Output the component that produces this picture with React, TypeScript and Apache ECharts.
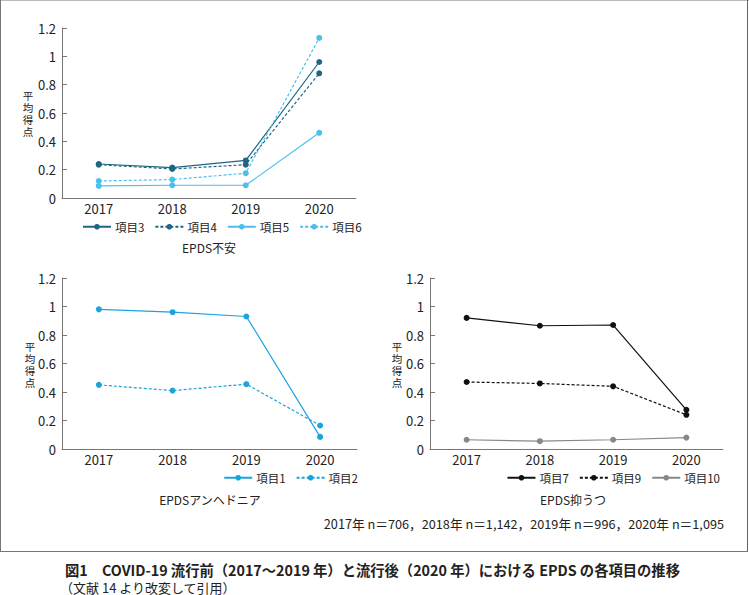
import React, { useEffect, useRef } from "react";
import * as echarts from "echarts";

const years = ["2017", "2018", "2019", "2020"];
const yTicks = [0, 0.2, 0.4, 0.6, 0.8, 1, 1.2];

const item3 = [0.24, 0.215, 0.265, 0.96];
const item4 = [0.235, 0.205, 0.235, 0.88];
const item5 = [0.085, 0.09, 0.09, 0.46];
const item6 = [0.12, 0.13, 0.175, 1.13];

const item1 = [0.98, 0.96, 0.93, 0.085];
const item2 = [0.45, 0.41, 0.455, 0.165];

const item7 = [0.92, 0.865, 0.87, 0.275];
const item9 = [0.47, 0.46, 0.44, 0.24];
const item10 = [0.065, 0.055, 0.065, 0.08];

const panelTitles = ["EPDS不安", "EPDSアンヘドニア", "EPDS抑うつ"];
const yName = "平均得点";
const note = "2017年 n＝706，2018年 n＝1,142，2019年 n＝996，2020年 n＝1,095";
const caption1 = "図1　COVID-19 流行前（2017〜2019 年）と流行後（2020 年）における EPDS の各項目の推移";
const caption2 = "（文献 14 より改変して引用）";

const FONT = "'Noto Sans CJK JP', 'Noto Sans', sans-serif";
const TEXT = "#222";
const AXIS = "#777";

const DARK = "#1e6683";
const LIGHT = "#4dbfec";
const MID = "#1aa3dc";
const BLACK = "#111";
const GRAY = "#888";

export default function App() {
  const ref = useRef<HTMLDivElement>(null);
  useEffect(() => {
    document.body.style.margin = "0";
    if (!ref.current) return;
    const chart = echarts.init(ref.current, null, { renderer: "svg" });

    const grids = [
      { left: 62, top: 28, width: 294, height: 170 },
      { left: 62, top: 278, width: 295, height: 171 },
      { left: 430, top: 278, width: 293, height: 171 },
    ];

    const xAxes = grids.map((_, i) => ({
      type: "category",
      gridIndex: i,
      data: years,
      boundaryGap: true,
      axisLine: { lineStyle: { color: AXIS, width: 1 } },
      axisTick: { show: false },
      axisLabel: { color: TEXT, fontSize: 13, fontFamily: FONT, margin: 4 },
    }));

    const yAxes = grids.map((_, i) => ({
      type: "value",
      gridIndex: i,
      min: yTicks[0],
      max: yTicks[yTicks.length - 1],
      interval: 0.2,
      splitLine: { show: false },
      axisLine: { show: true, lineStyle: { color: AXIS, width: 1 } },
      axisTick: { show: true, inside: true, length: 5, lineStyle: { color: AXIS } },
      axisLabel: {
        color: TEXT,
        fontSize: 13,
        fontFamily: FONT,
        margin: 6,
        formatter: (v: number) => String(Math.round(v * 10) / 10),
      },
    }));

    const mk = (name: string, data: number[], idx: number, color: string, dashed: boolean) => ({
      name,
      type: "line",
      xAxisIndex: idx,
      yAxisIndex: idx,
      data,
      symbol: "circle",
      symbolSize: 6,
      showSymbol: true,
      itemStyle: { color },
      lineStyle: { color, width: 1.2, type: dashed ? [3, 2] : "solid" },
      emphasis: { disabled: true },
    });

    const series = [
      mk("項目3", item3, 0, DARK, false),
      mk("項目4", item4, 0, DARK, true),
      mk("項目5", item5, 0, LIGHT, false),
      mk("項目6", item6, 0, LIGHT, true),
      mk("項目1", item1, 1, MID, false),
      mk("項目2", item2, 1, MID, true),
      mk("項目7", item7, 2, BLACK, false),
      mk("項目9", item9, 2, BLACK, true),
      mk("項目10", item10, 2, GRAY, false),
    ];

    const legendBase = {
      itemWidth: 28,
      itemHeight: 7,
      itemGap: 10,
      selectedMode: false,
      textStyle: { color: TEXT, fontSize: 11.5, fontFamily: FONT, padding: [0, 0, 0, -1] },
      padding: 0,
    };

    const text = (x: number, y: number, t: string, opts: any = {}) => ({
      type: "text",
      x,
      y,
      silent: true,
      style: {
        text: t,
        fill: TEXT,
        font: `${opts.weight || "normal"} ${opts.size || 12}px ${FONT}`,
        align: opts.align || "center",
        verticalAlign: "middle",
        textAlign: opts.align || "center",
        textVerticalAlign: "middle",
      },
    });

    const vertical = (cx: number, cy: number) => {
      const chars = yName.split("");
      const step = 12;
      const start = cy - ((chars.length - 1) * step) / 2;
      return chars.map((c, k) => text(cx, start + k * step, c, { size: 10.5 }));
    };

    const line = (x1: number, y1: number, x2: number, y2: number, color: string) => ({
      type: "line",
      silent: true,
      shape: { x1, y1, x2, y2 },
      style: { stroke: color, lineWidth: 1 },
    });

    chart.setOption({
      animation: false,
      backgroundColor: "#fff",
      grid: grids,
      xAxis: xAxes,
      yAxis: yAxes,
      series,
      legend: [
        { ...legendBase, data: ["項目3", "項目4", "項目5", "項目6"], left: 82, top: 221 },
        { ...legendBase, data: ["項目1", "項目2"], right: 391, top: 472 },
        { ...legendBase, data: ["項目7", "項目9", "項目10"], right: 29, top: 472 },
      ],
      graphic: [
        line(0, 0.5, 749, 0.5, "#bbb"),
        line(0.5, 0, 0.5, 552, "#777"),
        line(747.5, 0, 747.5, 552, "#666"),
        line(0, 551.5, 748, 551.5, "#777"),
        ...vertical(28, 113),
        ...vertical(30, 364),
        ...vertical(397, 364),
        text(209, 247, panelTitles[0], { size: 12 }),
        text(210, 499, panelTitles[1], { size: 12 }),
        text(573, 499, panelTitles[2], { size: 12 }),
        text(724, 523, note, { size: 12.7, align: "right" }),
        text(65, 569, caption1, { size: 14.3, weight: "bold", align: "left" }),
        text(60, 587, caption2, { size: 13, align: "left" }),
      ],
    });

    return () => chart.dispose();
  }, []);

  return <div ref={ref} style={{ width: 749, height: 595 }} />;
}
